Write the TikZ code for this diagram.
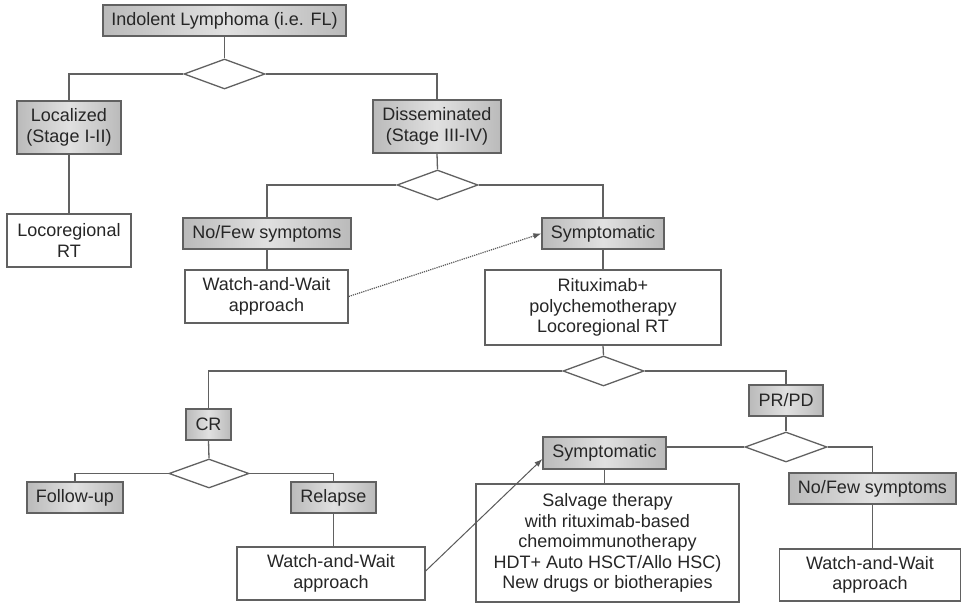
\documentclass[tikz,border=0pt]{standalone}
\usepackage{fontspec}
\setmainfont{Liberation Sans}
\usetikzlibrary{shapes.geometric,arrows.meta}
\begin{document}
\begin{tikzpicture}[x=1pt,y=-1pt,
  every node/.style={font=\fontsize{18}{20.5}\selectfont, text=black!85, inner sep=0pt, align=center},
  gbox/.style={rectangle, draw=black!62, line width=1.3pt, left color=black!27, right color=black!27, middle color=black!12},
  wbox/.style={rectangle, draw=black!62, line width=1.3pt, fill=white},
  dia/.style={diamond, draw=black!62, line width=1.3pt, fill=white, minimum width=81pt, minimum height=30pt},
  conn/.style={draw=black!62, line width=1.3pt},
  dotarrow/.style={draw=black!65, line width=1.2pt, densely dotted, -{Latex[length=8pt,width=6pt]}},
  solarrow/.style={draw=black!65, line width=1.0pt, -{Latex[length=8pt,width=6pt]}}]
\useasboundingbox (0,0) rectangle (962,604);
% gray boxes
\node[gbox, minimum width=243pt, minimum height=31pt] (top) at (224.5,20.5) {Indolent Lymphoma (i.e. FL)};
\node[gbox, minimum width=104pt, minimum height=53pt] (loc) at (69,127.5) {Localized\\(Stage I-II)};
\node[gbox, minimum width=128pt, minimum height=53pt] (dis) at (437,126.5) {Disseminated\\(Stage III-IV)};
\node[gbox, minimum width=168pt, minimum height=31pt] (nofewa) at (267,233.5) {No/Few symptoms};
\node[gbox, minimum width=122pt, minimum height=31pt] (syma) at (603,233.5) {Symptomatic};
\node[gbox, minimum width=45pt, minimum height=31pt] (cr) at (208.5,424.5) {CR};
\node[gbox, minimum width=74pt, minimum height=31pt] (prpd) at (786,400.5) {PR/PD};
\node[gbox, minimum width=96pt, minimum height=31pt] (follow) at (75,497.5) {Follow-up};
\node[gbox, minimum width=85pt, minimum height=31pt] (relapse) at (333.5,497.5) {Relapse};
\node[gbox, minimum width=123pt, minimum height=32pt] (symb) at (604.5,453) {Symptomatic};
\node[gbox, minimum width=167pt, minimum height=31pt] (nofewb) at (872.5,488.5) {No/Few symptoms};
% white boxes
\node[wbox, minimum width=124pt, minimum height=53pt] (locrt) at (69,240.5) {Locoregional\\RT};
\node[wbox, minimum width=163pt, minimum height=53pt] (wwa) at (266.5,296.5) {Watch-and-Wait\\approach};
\node[wbox, minimum width=236pt, minimum height=75pt] (rit) at (603,307.5) {Rituximab+\\polychemotherapy\\Locoregional RT};
\node[wbox, minimum width=188pt, minimum height=53pt] (wwb) at (331,573.5) {Watch-and-Wait\\approach};
\node[wbox, minimum width=263pt, minimum height=118pt] (salv) at (607.5,543) {Salvage therapy\\with rituximab-based\\chemoimmunotherapy\\HDT+ Auto HSCT/Allo HSC)\\New drugs or biotherapies};
\node[wbox, minimum width=181pt, minimum height=52pt] (wwc) at (870,575) {Watch-and-Wait\\approach};
% diamonds
\node[dia] (da) at (224.5,74) {};
\node[dia] (db) at (437.5,185) {};
\node[dia] (dc) at (603.5,371) {};
\node[dia, minimum width=80pt, minimum height=29pt] (dd) at (209,473.5) {};
\node[dia, minimum width=82pt] (de) at (786,447) {};
% connectors
\draw[conn] (top.south) -- (da.north);
\draw[conn] (da.west) -| (loc.north);
\draw[conn] (da.east) -| (dis.north);
\draw[conn] (loc.south) -- (locrt.north);
\draw[conn] (dis.south) -- (db.north);
\draw[conn] (db.west) -| (nofewa.north);
\draw[conn] (db.east) -| (syma.north);
\draw[conn] (nofewa.south) -- (nofewa.south |- wwa.north);
\draw[conn] (syma.south) -- (rit.north);
\draw[conn] (rit.south) -- (dc.north);
\draw[conn] (dc.west) -| (cr.north);
\draw[conn] (dc.east) -| (prpd.north);
\draw[conn] (cr.south) -- (dd.north);
\draw[conn] (dd.west) -| (follow.north);
\draw[conn] (dd.east) -| (relapse.north);
\draw[conn] (relapse.south) -- (relapse.south |- wwb.north);
\draw[conn] (prpd.south) -- (de.north);
\draw[conn] (de.west) -- (de.west -| symb.east);
\draw[conn] (de.east) -| (nofewb.north);
\draw[conn] (nofewb.south) -- (nofewb.south |- wwc.north);
\draw[conn] (symb.south) -- (symb.south |- salv.north);
% arrows
\draw[dotarrow] (wwa.east) -- (syma.west);
\draw[solarrow] ([yshift=2.5pt]wwb.east) -- ([yshift=-6pt]symb.west);
\end{tikzpicture}
\end{document}
